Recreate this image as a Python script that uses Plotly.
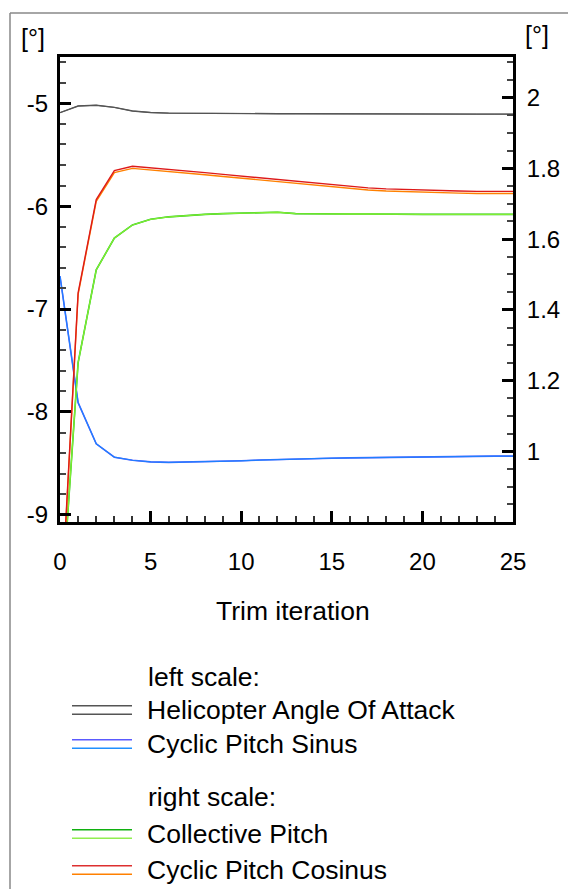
import plotly.graph_objects as go

# ---------------- data ----------------
iterations = list(range(0, 26))

# left scale [deg]
aoa_1 = [-5.091, -5.026, -5.019, -5.040, -5.075, -5.090, -5.096, -5.098, -5.100, -5.100,
         -5.100, -5.100, -5.101, -5.101, -5.102, -5.102, -5.102, -5.103, -5.103, -5.103,
         -5.104, -5.104, -5.104, -5.105, -5.105, -5.105]
aoa_2 = [-5.091, -5.026, -5.019, -5.040, -5.075, -5.090, -5.096, -5.098, -5.100, -5.100,
         -5.100, -5.100, -5.101, -5.101, -5.102, -5.102, -5.102, -5.103, -5.103, -5.103,
         -5.104, -5.104, -5.104, -5.105, -5.105, -5.105]
sin_1 = [-6.68, -7.91, -8.31, -8.44, -8.47, -8.486, -8.490, -8.488, -8.485, -8.480,
         -8.475, -8.468, -8.462, -8.458, -8.454, -8.450, -8.447, -8.444, -8.441, -8.438,
         -8.436, -8.434, -8.432, -8.431, -8.430, -8.430]
sin_2 = [-6.68, -7.91, -8.31, -8.44, -8.47, -8.486, -8.490, -8.488, -8.485, -8.480,
         -8.475, -8.468, -8.462, -8.458, -8.454, -8.450, -8.447, -8.444, -8.441, -8.438,
         -8.436, -8.434, -8.432, -8.431, -8.430, -8.430]

# right scale [deg]
coll_1 = [0.50, 1.251, 1.513, 1.603, 1.640, 1.656, 1.663, 1.667, 1.670, 1.672,
          1.674, 1.675, 1.676, 1.672, 1.671, 1.671, 1.671, 1.671, 1.670, 1.670,
          1.670, 1.670, 1.670, 1.670, 1.670, 1.670]
coll_2 = [0.50, 1.251, 1.513, 1.603, 1.640, 1.656, 1.663, 1.667, 1.670, 1.672,
          1.674, 1.675, 1.676, 1.672, 1.671, 1.671, 1.671, 1.671, 1.670, 1.670,
          1.670, 1.670, 1.670, 1.670, 1.670, 1.670]
cos_1 = [0.50, 1.448, 1.712, 1.794, 1.806, 1.802, 1.798, 1.793, 1.788, 1.783,
         1.778, 1.773, 1.768, 1.763, 1.758, 1.753, 1.749, 1.745, 1.742, 1.740,
         1.738, 1.737, 1.736, 1.735, 1.735, 1.735]
cos_2 = [0.49, 1.444, 1.707, 1.788, 1.800, 1.796, 1.792, 1.787, 1.782, 1.777,
         1.772, 1.767, 1.762, 1.757, 1.752, 1.747, 1.743, 1.739, 1.736, 1.734,
         1.732, 1.731, 1.730, 1.729, 1.729, 1.729]

x_ticks = [0, 5, 10, 15, 20, 25]
x_ticktext = ["0", "5", "10", "15", "20", "25"]
left_ticks = [-9, -8, -7, -6, -5]
left_ticktext = ["-9", "-8", "-7", "-6", "-5"]
right_ticks = [1.0, 1.2, 1.4, 1.6, 1.8, 2.0]
right_ticktext = ["1", "1.2", "1.4", "1.6", "1.8", "2"]

FONT = "Liberation Sans, Arial, Helvetica, sans-serif"
FS = 24     # tick labels
FT = 26.5   # titles / legend

# plot area in pixels
W, H = 568, 889
L, R, T, B = 60, 513, 57, 522


def px(x):
    return (x - L) / (R - L)


def py(y):
    return (B - y) / (B - T)


fig = go.Figure()

series = [
    (aoa_1, "y", "#555555", 1.4),
    (aoa_2, "y", "#555555", 1.0),
    (sin_1, "y", "#5a5aff", 1.6),
    (sin_2, "y", "#1e80ff", 1.2),
    (coll_1, "y2", "#22c022", 1.6),
    (coll_2, "y2", "#80ee30", 1.3),
    (cos_2, "y2", "#ff8000", 1.4),
    (cos_1, "y2", "#dd1a1a", 1.4),
]
for vals, ax, col, w in series:
    fig.add_trace(go.Scatter(x=iterations, y=vals, yaxis=ax, mode="lines",
                             line=dict(color=col, width=w), showlegend=False,
                             hoverinfo="skip"))

fig.update_layout(
    width=W, height=H,
    margin=dict(l=L, r=W - R, t=T, b=H - B, autoexpand=False),
    paper_bgcolor="white", plot_bgcolor="white",
    font=dict(family=FONT, size=FS, color="black"),
    showlegend=False,
    xaxis=dict(range=[0, 25], tickvals=x_ticks, ticktext=x_ticktext,
               ticks="inside", ticklen=11, automargin=False,
               tickwidth=2.5, tickcolor="black", showline=True, linewidth=3,
               linecolor="black", mirror=True, showgrid=False, zeroline=False,
               ticklabelstandoff=16,
               minor=dict(dtick=1, ticks="inside", ticklen=6, tickwidth=1.5,
                          tickcolor="#333333", showgrid=False)),
    yaxis=dict(range=[-9.07, -4.55], tickvals=left_ticks, ticktext=left_ticktext,
               ticks="inside", automargin=False,
               ticklen=11, tickwidth=2.5, tickcolor="black", showline=True,
               linewidth=3, linecolor="black", showgrid=False, zeroline=False,
               ticklabelstandoff=4,
               minor=dict(dtick=0.2, tick0=-9, ticks="inside", ticklen=6,
                          tickwidth=1.5, tickcolor="#444444", showgrid=False)),
    yaxis2=dict(range=[0.8, 2.115], tickvals=right_ticks, ticktext=right_ticktext,
                overlaying="y", side="right", ticks="inside", ticklen=11,
                automargin=False,
                tickwidth=2.5, tickcolor="black", showline=True, linewidth=3,
                linecolor="black", showgrid=False, zeroline=False,
                ticklabelstandoff=6,
                minor=dict(dtick=0.05, tick0=0.8, ticks="inside", ticklen=6,
                           tickwidth=1.5, tickcolor="#444444", showgrid=False)),
)

shapes = []
# outer frame (top and left)
frame_col = "#888888"
shapes.append(dict(type="line", xref="paper", yref="paper", x0=px(10), x1=px(570),
                   y0=py(13), y1=py(13), line=dict(color=frame_col, width=1.5)))
shapes.append(dict(type="line", xref="paper", yref="paper", x0=px(10), x1=px(10),
                   y0=py(13), y1=py(892), line=dict(color=frame_col, width=1.5)))

annotations = []


def text(x, y, s, anchor="left", size=FT):
    annotations.append(dict(x=px(x), y=py(y), xref="paper", yref="paper", text=s,
                            showarrow=False, xanchor=anchor, yanchor="middle",
                            font=dict(family=FONT, size=size, color="black")))


text(33, 38, "[°]", anchor="center", size=25)
text(537, 35, "[°]", anchor="center", size=25)
text(293, 611, "Trim iteration", anchor="center")

# custom legend
legend_items = [
    ("Helicopter Angle Of Attack", 710, "#555555", "#555555"),
    ("Cyclic Pitch Sinus", 744, "#5a5aff", "#1e90ff"),
    ("Collective Pitch", 834, "#10b010", "#90ee50"),
    ("Cyclic Pitch Cosinus", 870, "#dd3030", "#ff8000"),
]
text(146, 677, "left scale:")
text(146, 797, "right scale:")
for label, yc, c1, c2 in legend_items:
    for dy, c in ((-4.2, c1), (4.2, c2)):
        shapes.append(dict(type="line", xref="paper", yref="paper", x0=px(72),
                           x1=px(132), y0=py(yc + dy), y1=py(yc + dy),
                           line=dict(color=c, width=1.5)))
    text(145, yc, label)

fig.update_layout(shapes=shapes, annotations=annotations)
fig.write_html("out.html")
